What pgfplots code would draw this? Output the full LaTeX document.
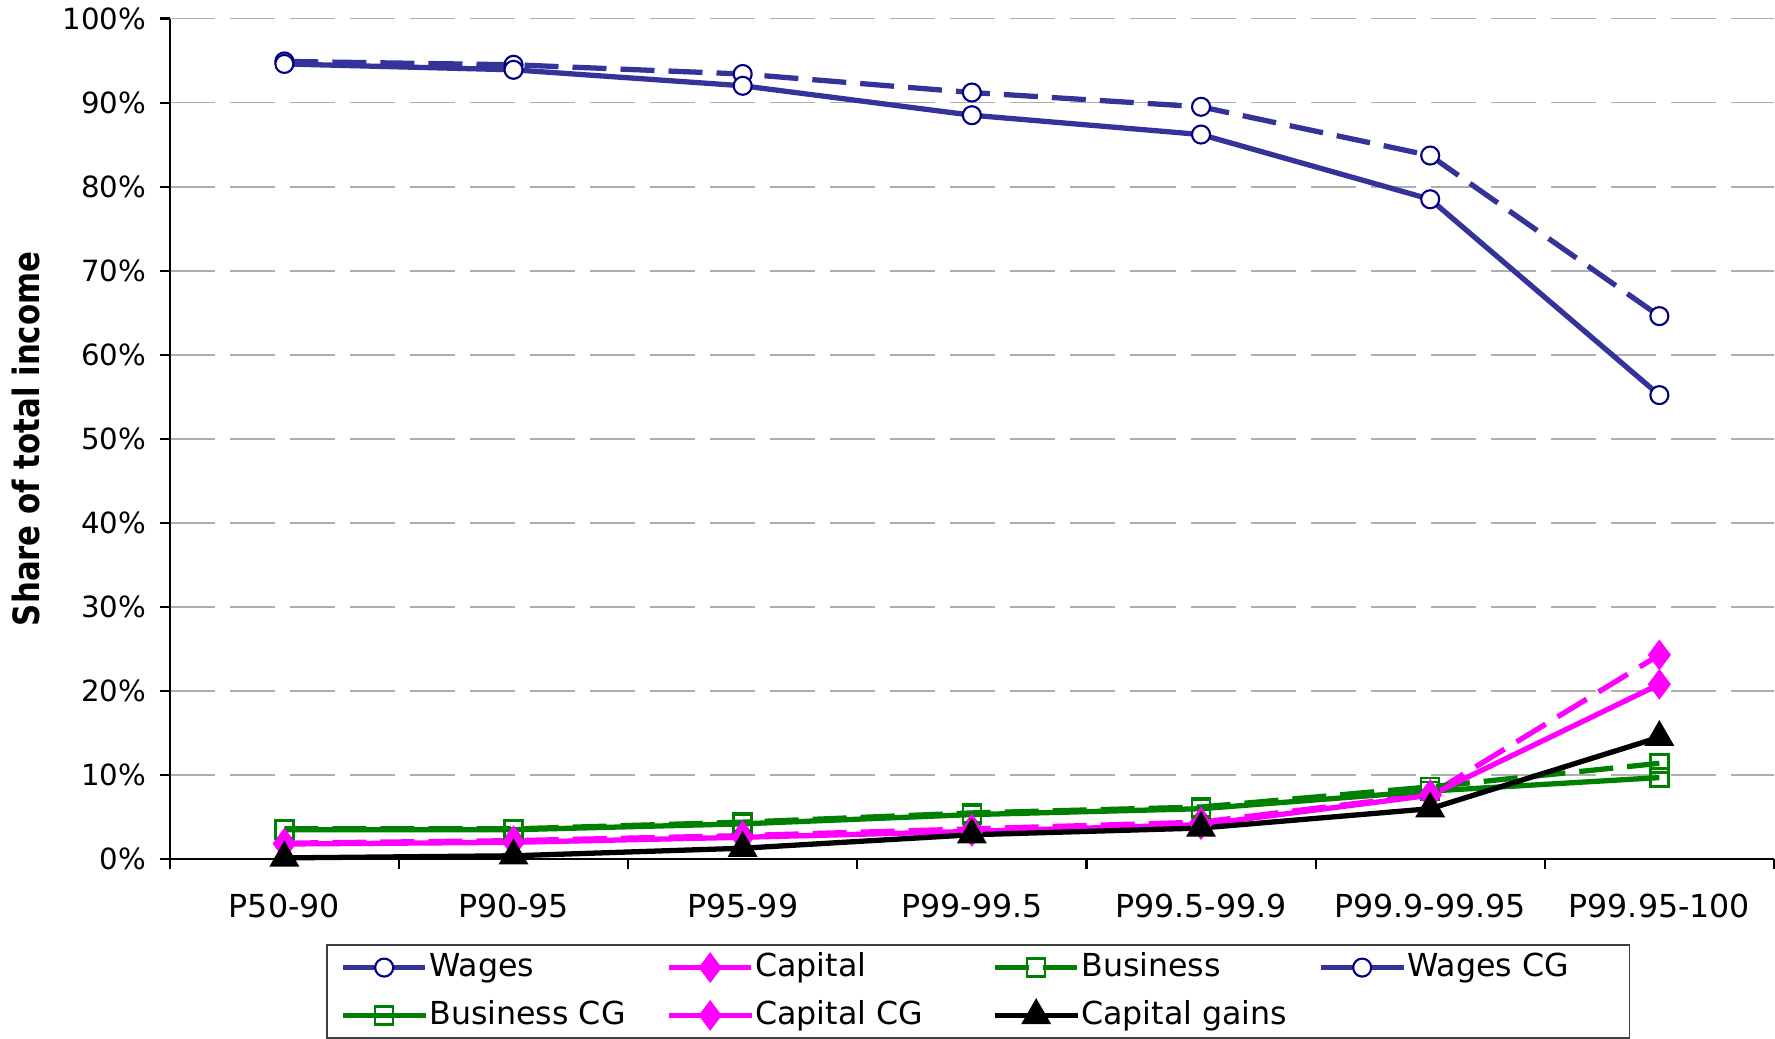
\documentclass[border=0pt]{standalone}
\usepackage{fontspec}
\setmainfont{DejaVu Sans}
\newfontfamily\labelfont[FakeStretch=0.85]{DejaVu Sans}
\usepackage{pgfplots}
\pgfplotsset{compat=1.18}
\definecolor{wageBlue}{RGB}{51,51,153}
\definecolor{wageEdge}{RGB}{0,0,128}
\definecolor{capPink}{RGB}{255,0,255}
\definecolor{busGreen}{RGB}{0,128,0}
\definecolor{gridGray}{RGB}{175,175,175}
\begin{document}
\begin{tikzpicture}
\begin{axis}[
    scale only axis,
    width=160.3mm, height=84mm,
    xmin=-0.5, xmax=6.5, ymin=0, ymax=100,
    clip=false,
    axis x line=bottom, axis y line=left,
    axis line style={-, black, line width=0.6pt},
    xtick={-0.5,0.5,...,6.5},
    x tick label as interval,
    xticklabels={P50-90,P90-95,P95-99,P99-99.5,P99.5-99.9,P99.9-99.95,P99.95-100},
    ytick={0,10,...,100},
    yticklabel={\pgfmathprintnumber[fixed,precision=0,assume math mode=true]{\tick}\%},
    tick align=outside,
    major tick length=1mm,
    tick style={black, line width=0.6pt},
    xticklabel style={font=\fontsize{9}{11}\selectfont, yshift=-1.2mm},
    yticklabel style={font=\fontsize{8.3}{10}\selectfont, inner ysep=0.75mm, inner xsep=1.3mm},
    ymajorgrids,
    grid style={gridGray, line width=0.5pt, dash pattern=on 4.5mm off 1.5mm},
    every axis y label/.style={at={(axis description cs:-0.0898,0.5)}, rotate=90, anchor=center},
    ylabel={\labelfont\fontsize{10.3}{12}\selectfont\bfseries Share of total income},
    legend columns=4,
    legend cell align=left,
    legend style={
        at={(axis description cs:0.504,0)}, anchor=north, yshift=-8.5mm,
        draw=black!75,
        font=\fontsize{9}{11}\selectfont,
        inner xsep=1.3mm, inner ysep=0.4mm,
        row sep=1.05mm,
        nodes={inner xsep=0.1mm, inner ysep=0.4mm},
        /tikz/every even column/.append style={column sep=1mm},
    },
    legend image code/.code={
        \draw[mark repeat=2,mark phase=2] plot coordinates {(0mm,0mm) (4.15mm,0mm) (8.3mm,0mm)};
    },
]
\addplot[wageBlue, line width=1.5pt, dash pattern=on 3.4mm off 1.4mm,
    mark=*, mark size=0.9mm, mark options={solid, fill=white, draw=wageEdge, line width=0.6pt}]
    coordinates {(0,94.9) (1,94.5) (2,93.4) (3,91.2) (4,89.5) (5,83.7) (6,64.6)};
\addlegendentry{\makebox[22.55mm][l]{Wages}}

\addplot[capPink, line width=1.5pt, dash pattern=on 3.4mm off 1.4mm,
    mark=diamond*, mark size=1.1mm, mark options={solid, fill=capPink}]
    coordinates {(0,1.9) (1,2.2) (2,2.8) (3,3.6) (4,4.4) (5,7.7) (6,24.3)};
\addlegendentry{\makebox[22.55mm][l]{Capital}}

\addplot[busGreen, line width=1.5pt, dash pattern=on 3.4mm off 1.4mm,
    mark=square, mark size=0.9mm, mark options={solid, draw=busGreen, line width=0.7pt}]
    coordinates {(0,3.6) (1,3.6) (2,4.4) (3,5.5) (4,6.2) (5,8.6) (6,11.4)};
\addlegendentry{\makebox[22.55mm][l]{Business}}

\addplot[wageBlue, line width=1.5pt,
    mark=*, mark size=0.9mm, mark options={solid, fill=white, draw=wageEdge, line width=0.6pt}]
    coordinates {(0,94.6) (1,93.9) (2,92.0) (3,88.5) (4,86.2) (5,78.5) (6,55.2)};
\addlegendentry{\makebox[20.8mm][l]{Wages CG}}

\addplot[busGreen, line width=1.5pt,
    mark=square, mark size=0.9mm, mark options={solid, draw=busGreen, line width=0.7pt}]
    coordinates {(0,3.5) (1,3.5) (2,4.2) (3,5.3) (4,6.0) (5,8.1) (6,9.7)};
\addlegendentry{\makebox[22.55mm][l]{Business CG}}

\addplot[capPink, line width=1.5pt,
    mark=diamond*, mark size=1.1mm, mark options={solid, fill=capPink}]
    coordinates {(0,1.8) (1,2.0) (2,2.6) (3,3.3) (4,4.1) (5,7.6) (6,20.8)};
\addlegendentry{\makebox[22.55mm][l]{Capital CG}}

\addplot[black, line width=1.5pt,
    mark=triangle*, mark size=1.2mm, mark options={solid, fill=black}]
    coordinates {(0,0.15) (1,0.4) (2,1.3) (3,2.9) (4,3.7) (5,6.0) (6,14.5)};
\addlegendentry{\makebox[22.55mm][l]{Capital gains}}
\end{axis}
\end{tikzpicture}
\end{document}
